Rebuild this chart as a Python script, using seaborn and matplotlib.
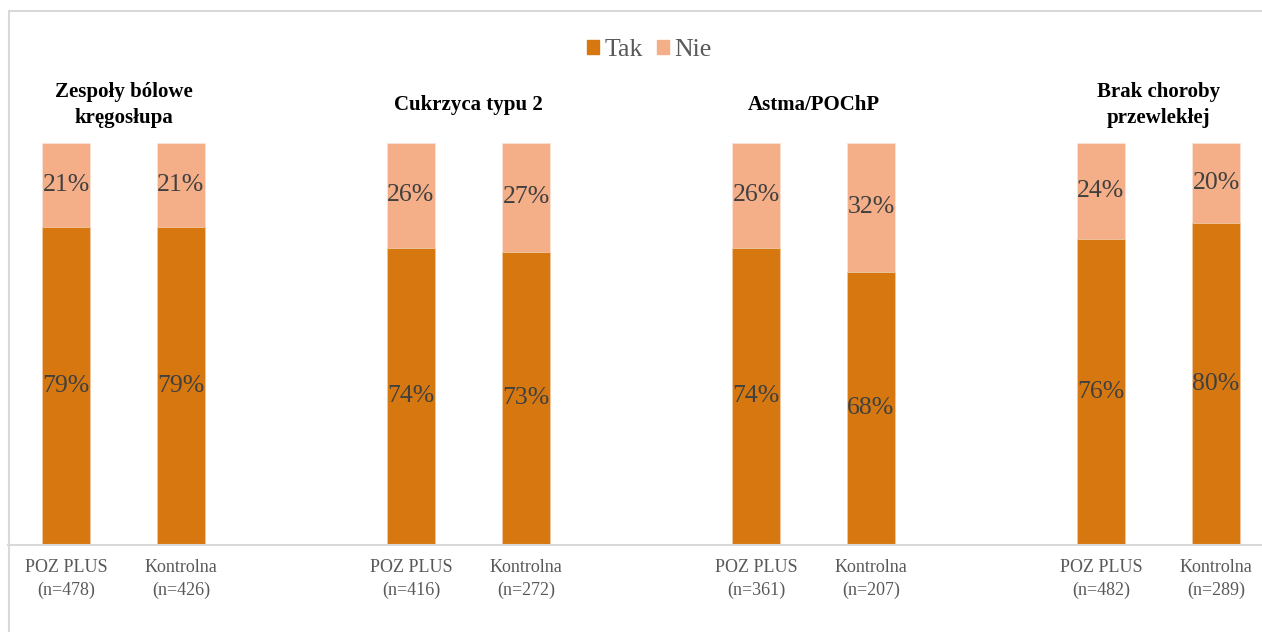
import pandas as pd
import matplotlib.pyplot as plt
import seaborn as sns
from matplotlib.patches import Patch, Rectangle

# data
groups = ['Zespoły bólowe\nkręgosłupa', 'Cukrzyca typu 2', 'Astma/POChP', 'Brak choroby\nprzewlekłej']
bar_labels = ['POZ PLUS\n(n=478)', 'Kontrolna\n(n=426)',
              'POZ PLUS\n(n=416)', 'Kontrolna\n(n=272)',
              'POZ PLUS\n(n=361)', 'Kontrolna\n(n=207)',
              'POZ PLUS\n(n=482)', 'Kontrolna\n(n=289)']
tak = [79, 79, 74, 73, 74, 68, 76, 80]
nie = [21, 21, 26, 27, 26, 32, 24, 20]

TAK_COLOR = '#D6780F'
NIE_COLOR = '#F5AF88'

# two bars per group, one empty slot between groups
positions = [g * 3 + k for g in range(len(groups)) for k in range(2)]
df = pd.DataFrame({'pos': positions, 'tak': tak, 'nie': nie, 'label': bar_labels})
df['total'] = df['tak'] + df['nie']

sns.set_style('white')
plt.rcParams['font.family'] = ['Liberation Serif', 'DejaVu Serif']

W, H = 1262, 632
fig = plt.figure(figsize=(W / 100, H / 100), dpi=100)
ax = fig.add_axes([8 / W, 1 - 545 / H, (W - 8) / W, (545 - 143) / H])

# stacked: full bar in "Nie" colour, "Tak" drawn on top
sns.barplot(data=df, x='pos', y='total', native_scale=True, color=NIE_COLOR,
            width=0.41, edgecolor='#FBE3D6', linewidth=0.6, saturation=1, ax=ax)
sns.barplot(data=df, x='pos', y='tak', native_scale=True, color=TAK_COLOR,
            width=0.41, edgecolor='#F0C9A6', linewidth=0.6, saturation=1, ax=ax)

ax.set_xlim(-58 / 115, (W - 8 - 58) / 115)
ax.set_ylim(0, 100)

for _, row in df.iterrows():
    ax.text(row.pos, row.tak / 2, f'{row.tak}%', ha='center', va='center',
            fontsize=18.5, color='#404040')
    ax.text(row.pos, row.tak + row.nie / 2, f'{row.nie}%', ha='center', va='center',
            fontsize=18.5, color='#404040')

# group titles
for g, name in enumerate(groups):
    ax.annotate(name, xy=(g * 3 + 0.5, 1 - 105 / H), xycoords=('data', 'figure fraction'),
                ha='center', va='center', fontsize=15, fontweight='bold', color='black',
                linespacing=1.35)

ax.set_xticks(df['pos'])
ax.set_xticklabels(df['label'], fontsize=13, color='#595959', linespacing=1.45)
ax.tick_params(axis='x', length=0, pad=10)
ax.set_yticks([])
ax.set_xlabel('')
ax.set_ylabel('')
for side in ['top', 'right', 'left']:
    ax.spines[side].set_visible(False)
ax.spines['bottom'].set_color('#D9D9D9')
ax.spines['bottom'].set_linewidth(1.5)

handles = [Patch(color=TAK_COLOR, label='Tak'), Patch(color=NIE_COLOR, label='Nie')]
leg = fig.legend(handles=handles, loc='center', bbox_to_anchor=(649 / W, 1 - 50 / H),
                 ncol=2, frameon=False, fontsize=18.5, handlelength=0.47, handleheight=0.47,
                 handletextpad=0.2, columnspacing=0.55)
for t in leg.get_texts():
    t.set_color('#595959')

# outer chart border (cut off at right and bottom)
fig.patches.append(Rectangle((8.5 / W, -0.1), 1.2, 1.1 - 10.5 / H, transform=fig.transFigure,
                             fill=False, edgecolor='#D9D9D9', linewidth=1.5))

plt.savefig('out.png', dpi=100)
